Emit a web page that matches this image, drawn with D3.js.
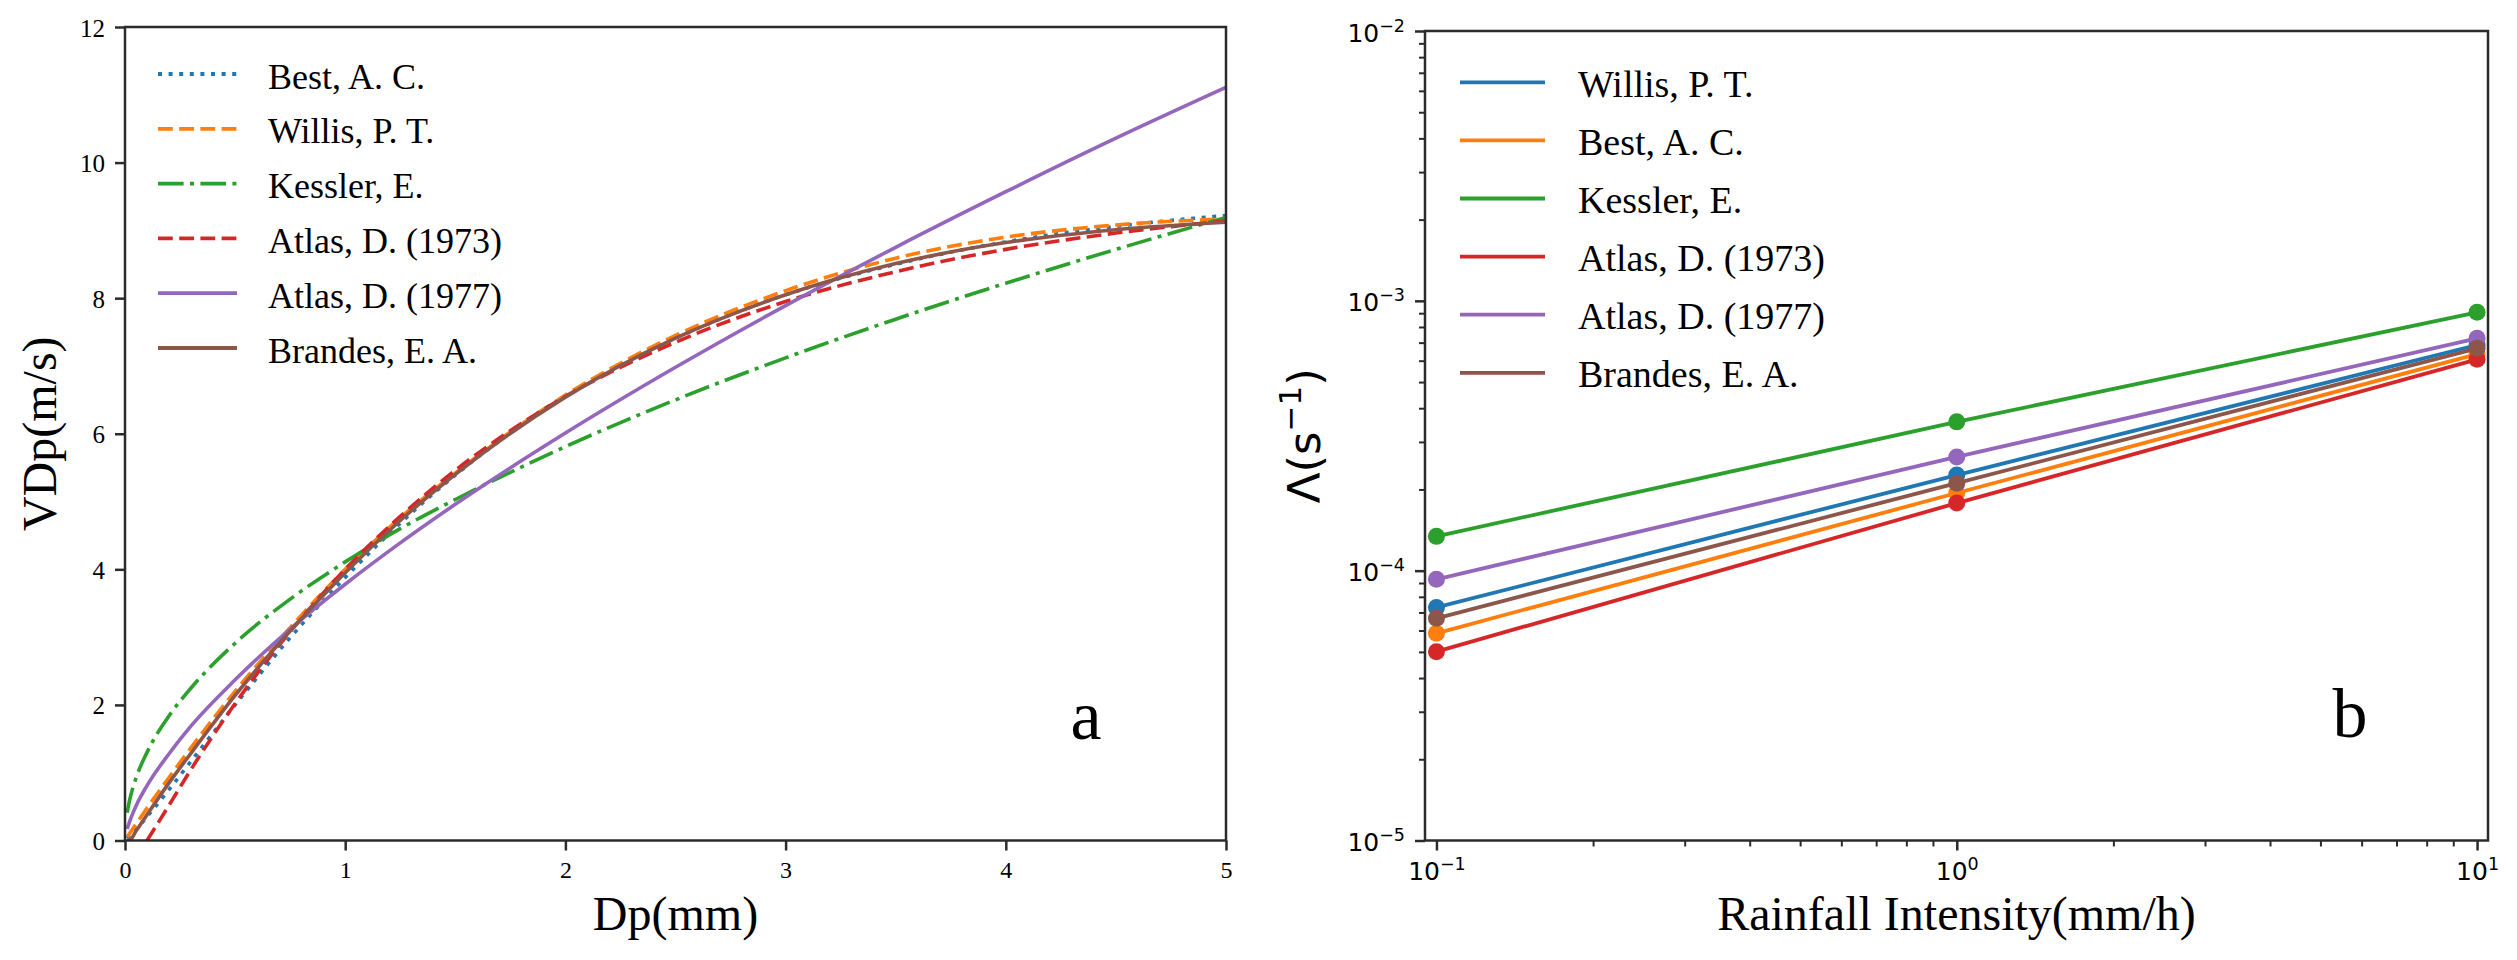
<!DOCTYPE html>
<html>
<head>
<meta charset="utf-8">
<script src="https://cdn.jsdelivr.net/npm/d3@7"></script>
<style>
  body { margin: 0; background: #fff; }
</style>
</head>
<body>
<div id="chart"></div>
<script>
// ---- panel a : fall speed against drop diameter
var dp = [0.01, 0.02, 0.05, 0.1, 0.2, 0.3, 0.5, 0.75, 1, 1.25, 1.5, 2, 2.5, 3, 3.5, 4, 4.5, 5];
var vBest     = [0.03, 0.06, 0.16, 0.35, 0.75, 1.17, 2.00, 2.99, 3.88, 4.68, 5.39, 6.55, 7.41, 8.05, 8.50, 8.83, 9.06, 9.22];
var vWillis   = [0.05, 0.10, 0.24, 0.48, 0.93, 1.37, 2.20, 3.14, 4.00, 4.76, 5.42, 6.57, 7.45, 8.11, 8.59, 8.90, 9.08, 9.17];
var vKessler  = [0.41, 0.58, 0.92, 1.30, 1.84, 2.25, 2.91, 3.56, 4.11, 4.60, 5.03, 5.81, 6.50, 7.12, 7.69, 8.22, 8.72, 9.19];
var vAtlas73  = [null, null, null, 0.00, 0.52, 1.05, 2.02, 3.08, 4.00, 4.78, 5.46, 6.55, 7.35, 7.95, 8.39, 8.72, 8.96, 9.14];
var vAtlas77  = [0.17, 0.27, 0.51, 0.81, 1.28, 1.69, 2.37, 3.12, 3.78, 4.39, 4.96, 6.01, 6.98, 7.89, 8.75, 9.57, 10.36, 11.11];
var vBrandes  = [0.00, 0.00, 0.14, 0.38, 0.85, 1.29, 2.14, 3.09, 3.95, 4.72, 5.40, 6.54, 7.41, 8.05, 8.51, 8.82, 9.01, 9.12];
var xTicksA = [0, 1, 2, 3, 4, 5];
var yTicksA = [0, 2, 4, 6, 8, 10, 12];

// ---- panel b : Lambda against rainfall intensity
var rain = [0.1, 1, 10];
var lamWillis  = [7.31e-5, 2.26e-4, 6.86e-4];
var lamBest    = [5.86e-5, 1.94e-4, 6.35e-4];
var lamKessler = [1.34e-4, 3.56e-4, 9.07e-4];
var lamAtlas73 = [5.01e-5, 1.78e-4, 6.07e-4];
var lamAtlas77 = [9.29e-5, 2.64e-4, 7.26e-4];
var lamBrandes = [6.66e-5, 2.11e-4, 6.67e-4];
var xTicksB = [0.1, 1, 10];
var yTicksB = [1e-5, 1e-4, 1e-3, 1e-2];

var blue = "#1f77b4", orange = "#ff7f0e", green = "#2ca02c",
    red = "#d62728", purple = "#9467bd", brown = "#8c564b";

var seriesA = [
  { name: "Best, A. C.",      v: vBest,    color: blue,   dash: "4,6.6" },
  { name: "Willis, P. T.",    v: vWillis,  color: orange, dash: "14.8,6.4" },
  { name: "Kessler, E.",      v: vKessler, color: green,  dash: "25.6,6.4,4,6.4" },
  { name: "Atlas, D. (1973)", v: vAtlas73, color: red,    dash: "14.8,6.4" },
  { name: "Atlas, D. (1977)", v: vAtlas77, color: purple, dash: null },
  { name: "Brandes, E. A.",   v: vBrandes, color: brown,  dash: null }
];

var seriesB = [
  { name: "Willis, P. T.",    v: lamWillis,  color: blue },
  { name: "Best, A. C.",      v: lamBest,    color: orange },
  { name: "Kessler, E.",      v: lamKessler, color: green },
  { name: "Atlas, D. (1973)", v: lamAtlas73, color: red },
  { name: "Atlas, D. (1977)", v: lamAtlas77, color: purple },
  { name: "Brandes, E. A.",   v: lamBrandes, color: brown }
];

var W = 2517, H = 960;
var serif = "'Liberation Serif', 'Times New Roman', serif";
var sans = "'DejaVu Sans', sans-serif";
var spineColor = "#2b2b2b";

var svg = d3.select("#chart").append("svg")
    .attr("width", W)
    .attr("height", H)
    .style("display", "block");

var defs = svg.append("defs");

function styleAxis(g, font, size) {
    g.attr("font-family", font).attr("font-size", size);
    g.select(".domain").remove();
    g.selectAll(".tick line").attr("stroke", spineColor).attr("stroke-width", 2.5);
    g.selectAll(".tick text").attr("fill", "#000");
}

function spines(g, w, h) {
    g.append("rect")
        .attr("x", 0).attr("y", 0)
        .attr("width", w).attr("height", h)
        .attr("fill", "none")
        .attr("stroke", spineColor)
        .attr("stroke-width", 2.5);
}

function expText(d) {
    var e = Math.round(Math.log10(d));
    return (e < 0 ? "\u2212" : "") + Math.abs(e);
}

function powLabels(g) {
    g.selectAll(".tick text").each(function (d) {
        var t = d3.select(this);
        t.text(null);
        t.append("tspan").text("10");
        t.append("tspan").attr("font-size", 17.5).attr("dy", -10).text(expText(d));
    });
}

// =========================== panel a ===========================
(function () {
    var left = 125, top = 27, right = 1226, bottom = 840.5;
    var w = right - left, h = bottom - top;

    var x = d3.scaleLinear().domain([0, 5]).range([0, w]);
    var y = d3.scaleLinear().domain([0, 12]).range([h, 0]);

    var g = svg.append("g").attr("transform", "translate(" + left + "," + top + ")");

    defs.append("clipPath").attr("id", "clipA")
        .append("rect").attr("width", w).attr("height", h);

    var line = d3.line()
        .defined(function (d) { return d[1] != null; })
        .x(function (d) { return x(d[0]); })
        .y(function (d) { return y(d[1]); })
        .curve(d3.curveMonotoneX);

    var lines = g.append("g").attr("clip-path", "url(#clipA)");
    seriesA.forEach(function (s) {
        lines.append("path")
            .datum(dp.map(function (d, i) { return [d, s.v[i]]; }))
            .attr("d", line)
            .attr("fill", "none")
            .attr("stroke", s.color)
            .attr("stroke-width", 3.6)
            .attr("stroke-dasharray", s.dash);
    });

    var xa = g.append("g")
        .attr("transform", "translate(0," + h + ")")
        .call(d3.axisBottom(x).tickValues(xTicksA).tickSize(10).tickSizeOuter(0).tickFormat(d3.format("d")));
    styleAxis(xa, serif, 24);
    xa.selectAll(".tick text").attr("dy", null).attr("y", 37.5);

    var ya = g.append("g")
        .call(d3.axisLeft(y).tickValues(yTicksA).tickSize(10).tickSizeOuter(0).tickFormat(d3.format("d")));
    styleAxis(ya, serif, 25);
    ya.selectAll(".tick text").attr("dy", null).attr("x", -20).attr("y", 9);

    spines(g, w, h);

    // axis titles
    svg.append("text")
        .attr("x", left + w / 2).attr("y", 930)
        .attr("text-anchor", "middle")
        .attr("font-family", serif).attr("font-size", 48)
        .text("Dp(mm)");

    svg.append("text")
        .attr("transform", "translate(56," + (top + h / 2) + ") rotate(-90)")
        .attr("text-anchor", "middle")
        .attr("font-family", serif).attr("font-size", 48)
        .text("VDp(m/s)");

    // panel letter
    g.append("text")
        .attr("x", 1086 - left).attr("y", 739 - top)
        .attr("text-anchor", "middle")
        .attr("font-family", serif).attr("font-size", 70)
        .text("a");

    // legend
    var leg = g.append("g");
    seriesA.forEach(function (s, i) {
        var ly = 74 - top + i * 54.8;
        leg.append("line")
            .attr("x1", 158 - left).attr("x2", 237 - left)
            .attr("y1", ly).attr("y2", ly)
            .attr("stroke", s.color)
            .attr("stroke-width", 3.8)
            .attr("stroke-dasharray", s.dash);
        leg.append("text")
            .attr("x", 268 - left).attr("y", ly + 14.5)
            .attr("font-family", serif).attr("font-size", 36)
            .text(s.name);
    });
})();

// =========================== panel b ===========================
(function () {
    var left = 1425, top = 31, right = 2488, bottom = 840.5;
    var w = right - left, h = bottom - top;

    var x = d3.scaleLog().domain([Math.pow(10, -1.022), Math.pow(10, 1.021)]).range([0, w]);
    var y = d3.scaleLog().domain([1e-5, 1e-2]).range([h, 0]);

    var g = svg.append("g").attr("transform", "translate(" + left + "," + top + ")");

    var line = d3.line()
        .x(function (d) { return x(d[0]); })
        .y(function (d) { return y(d[1]); });

    seriesB.forEach(function (s) {
        var pts = rain.map(function (r, i) { return [r, s.v[i]]; });
        var sg = g.append("g");
        sg.append("path")
            .datum(pts)
            .attr("d", line)
            .attr("fill", "none")
            .attr("stroke", s.color)
            .attr("stroke-width", 3.8);
        sg.selectAll("circle")
            .data(pts)
            .join("circle")
            .attr("cx", function (d) { return x(d[0]); })
            .attr("cy", function (d) { return y(d[1]); })
            .attr("r", 8.5)
            .attr("fill", s.color);
    });

    // minor ticks 2..9 of every decade inside the limits
    var xd = x.domain(), yd = y.domain();
    var minorX = [], minorY = [];
    for (var e = -6; e <= 2; e++) {
        for (var k = 2; k <= 9; k++) {
            var v = k * Math.pow(10, e);
            if (v >= xd[0] && v <= xd[1]) minorX.push(v);
            if (v >= yd[0] && v <= yd[1]) minorY.push(v);
        }
    }

    var xMinor = g.append("g")
        .attr("transform", "translate(0," + h + ")")
        .call(d3.axisBottom(x).tickValues(minorX).tickSize(6).tickSizeOuter(0).tickFormat(""));
    styleAxis(xMinor, sans, 25);
    xMinor.selectAll(".tick line").attr("stroke-width", 2);

    var yMinor = g.append("g")
        .call(d3.axisLeft(y).tickValues(minorY).tickSize(6).tickSizeOuter(0).tickFormat(""));
    styleAxis(yMinor, sans, 25);
    yMinor.selectAll(".tick line").attr("stroke-width", 2);

    var xa = g.append("g")
        .attr("transform", "translate(0," + h + ")")
        .call(d3.axisBottom(x).tickValues(xTicksB).tickSize(10).tickSizeOuter(0));
    styleAxis(xa, sans, 25);
    powLabels(xa);
    xa.selectAll(".tick text").attr("dy", null).attr("y", 39.5);

    var ya = g.append("g")
        .call(d3.axisLeft(y).tickValues(yTicksB).tickSize(10).tickSizeOuter(0));
    styleAxis(ya, sans, 25);
    powLabels(ya);
    ya.selectAll(".tick text").attr("dy", null).attr("x", -20).attr("y", 10);

    spines(g, w, h);

    svg.append("text")
        .attr("x", left + w / 2).attr("y", 930)
        .attr("text-anchor", "middle")
        .attr("font-family", serif).attr("font-size", 48)
        .text("Rainfall Intensity(mm/h)");

    var yl = svg.append("text")
        .attr("transform", "translate(1320," + (top + h / 2) + ") rotate(-90)")
        .attr("text-anchor", "middle")
        .attr("font-family", sans).attr("font-size", 45);
    yl.append("tspan").text("\u039b(s");
    yl.append("tspan").attr("font-size", 31).attr("dy", -19).text("\u22121");
    yl.append("tspan").attr("dy", 19).text(")");

    g.append("text")
        .attr("x", 2350 - left).attr("y", 737 - top)
        .attr("text-anchor", "middle")
        .attr("font-family", serif).attr("font-size", 70)
        .text("b");

    var leg = g.append("g");
    seriesB.forEach(function (s, i) {
        var ly = 82.3 - top + i * 58.1;
        leg.append("line")
            .attr("x1", 1460 - left).attr("x2", 1545 - left)
            .attr("y1", ly).attr("y2", ly)
            .attr("stroke", s.color)
            .attr("stroke-width", 3.8);
        leg.append("text")
            .attr("x", 1578 - left).attr("y", ly + 14.5)
            .attr("font-family", serif).attr("font-size", 38)
            .text(s.name);
    });
})();
</script>
</body>
</html>
